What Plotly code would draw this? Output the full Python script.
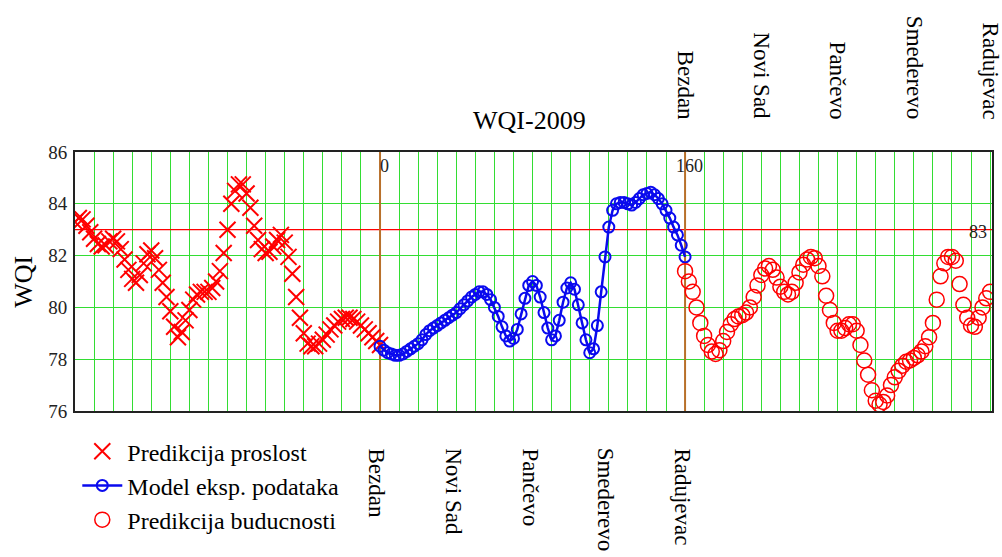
import plotly.graph_objects as go

# ---------------- data ----------------
X_PAST = list(range(-160, 1, 2))
WQI_PAST = [
    83.3, 83.45, 83.4, 83.15, 82.9, 82.65, 82.45, 82.35, 82.4, 82.55,
    82.65, 82.55, 82.25, 81.85, 81.45, 81.1, 80.95, 81.25, 81.7, 82.05,
    82.2, 81.9, 81.45, 80.95, 80.4, 79.85, 79.25, 78.85, 79.05, 79.5,
    79.9, 80.3, 80.5, 80.6, 80.6, 80.6, 80.75, 81.0, 81.4, 82.1,
    83.0, 84.0, 84.5, 84.75, 84.75, 84.4, 83.85, 83.15, 82.6, 82.25,
    82.1, 82.15, 82.35, 82.6, 82.8, 82.5, 81.95, 81.3, 80.4, 79.6,
    79.0, 78.6, 78.5, 78.5, 78.6, 78.75, 78.95, 79.15, 79.3, 79.45,
    79.55, 79.6, 79.6, 79.55, 79.45, 79.3, 79.15, 79.0, 78.85, 78.7,
    78.55,
]

X_MODEL = list(range(0, 161, 2))
WQI_MODEL = [
    78.5, 78.35, 78.25, 78.2, 78.15, 78.15, 78.2, 78.3, 78.4, 78.5,
    78.6, 78.75, 78.95, 79.1, 79.2, 79.3, 79.4, 79.5, 79.6, 79.7,
    79.8, 79.95, 80.1, 80.25, 80.4, 80.5, 80.6, 80.6, 80.5, 80.3,
    80.0, 79.65, 79.25, 78.9, 78.7, 78.8, 79.15, 79.75, 80.35, 80.85,
    81.0, 80.85, 80.4, 79.8, 79.2, 78.75, 78.9, 79.5, 80.2, 80.75,
    80.95, 80.7, 80.1, 79.4, 78.75, 78.25, 78.4, 79.3, 80.6, 81.95,
    83.1, 83.75, 84.0, 84.05, 84.05, 84.0, 83.95, 84.05, 84.2, 84.35,
    84.4, 84.45, 84.35, 84.2, 84.0, 83.75, 83.45, 83.1, 82.8, 82.4,
    81.95,
]

X_FUTURE = list(range(160, 321, 2))
WQI_FUTURE = [
    81.4, 81.0, 80.6, 80.0, 79.4, 78.9, 78.55, 78.3, 78.2, 78.35,
    78.7, 79.05, 79.35, 79.55, 79.65, 79.7, 79.8, 80.0, 80.4, 80.85,
    81.25, 81.5, 81.6, 81.45, 81.15, 80.8, 80.6, 80.5, 80.6, 80.95,
    81.35, 81.65, 81.85, 81.95, 81.9, 81.6, 81.2, 80.45, 79.9, 79.4,
    79.1, 79.1, 79.2, 79.35, 79.35, 79.1, 78.55, 77.95, 77.4, 76.8,
    76.4, 76.25, 76.35, 76.6, 77.0, 77.3, 77.55, 77.75, 77.9, 77.95,
    78.05, 78.15, 78.3, 78.5, 78.85, 79.4, 80.3, 81.2, 81.7, 81.95,
    81.95, 81.8, 80.9, 80.1, 79.6, 79.3, 79.25, 79.6, 80.0, 80.35,
    80.6,
]

SERIES_NAMES = ["Predikcija proslost", "Model eksp. podataka", "Predikcija buducnosti"]
STATIONS = ["Bezdan", "Novi Sad", "Pančevo", "Smederevo", "Radujevac"]
STATION_X_BOTTOM = [0, 40, 80, 120, 160]
STATION_X_TOP = [160, 200, 240, 280, 320]
MARKERS_X = [0, 160]
MARKER_LABELS = ["0", "160"]
REF_LEVEL = 83
TITLE = "WQI-2009"
Y_TITLE = "WQI"

# ---------------- figure ----------------
FONT = "Liberation Serif, Times New Roman, serif"
GRID = "#33dd33"
BLUE = "#0a0aee"

fig = go.Figure()
fig.add_trace(go.Scatter(
    x=X_PAST, y=WQI_PAST, mode="markers", name=SERIES_NAMES[0],
    marker=dict(symbol="x-thin", size=16, color="red",
                line=dict(width=2, color="red")),
))
fig.add_trace(go.Scatter(
    x=X_MODEL, y=WQI_MODEL, mode="lines+markers", name=SERIES_NAMES[1],
    line=dict(color=BLUE, width=2.5),
    marker=dict(symbol="circle-open", size=11, color=BLUE,
                line=dict(width=2, color=BLUE)),
))
fig.add_trace(go.Scatter(
    x=X_FUTURE, y=WQI_FUTURE, mode="markers", name=SERIES_NAMES[2],
    marker=dict(symbol="circle-open", size=15, color="red",
                line=dict(width=1.5, color="red")),
))

# reference line and markers
fig.add_shape(type="line", xref="x", yref="y", x0=-160, x1=321,
              y0=REF_LEVEL, y1=REF_LEVEL, line=dict(color="#ff0000", width=1.3),
              layer="between")
for xv in MARKERS_X:
    fig.add_shape(type="line", xref="x", yref="y", x0=xv, x1=xv,
                  y0=76, y1=86, line=dict(color="#b8702a", width=2),
                  layer="between")

ann = []
ann.append(dict(text=TITLE, xref="paper", yref="paper", x=0.496, y=1.12,
                xanchor="center", yanchor="middle", showarrow=False,
                font=dict(family=FONT, size=26, color="black")))
ann.append(dict(text=Y_TITLE, xref="paper", yref="paper", x=-0.057, y=0.498,
                xanchor="center", yanchor="middle", showarrow=False,
                textangle=-90, font=dict(family=FONT, size=26, color="black")))
for xv, lab in zip(MARKERS_X, MARKER_LABELS):
    ann.append(dict(text=lab, xref="x", yref="paper", x=xv, y=0.946,
                    xanchor="center", yanchor="middle", xshift=4,
                    showarrow=False,
                    font=dict(family=FONT, size=18, color="#222")))
ann.append(dict(text=str(REF_LEVEL), xref="x", yref="y", x=319.5, y=REF_LEVEL,
                xanchor="right", yanchor="middle", yshift=-2, showarrow=False,
                font=dict(family=FONT, size=18, color="#222")))
for xv, name in zip(STATION_X_BOTTOM, STATIONS):
    ann.append(dict(text=name, xref="x", yref="paper", x=xv, y=-0.135,
                    xanchor="center", yanchor="top", xshift=-3,
                    textangle=90, showarrow=False,
                    font=dict(family=FONT, size=23, color="black")))
for xv, name in zip(STATION_X_TOP, STATIONS):
    ann.append(dict(text=name, xref="x", yref="paper", x=xv, y=1.119,
                    xanchor="center", yanchor="bottom",
                    textangle=90, showarrow=False,
                    font=dict(family=FONT, size=23, color="black")))

fig.update_layout(
    width=1002, height=557, autosize=False,
    margin=dict(l=75, r=10, t=152, b=146, autoexpand=False),
    paper_bgcolor="white", plot_bgcolor="white",
    font=dict(family=FONT, color="black"),
    showlegend=True,
    legend=dict(x=0.0025, y=-0.07, xanchor="left", yanchor="top",
                font=dict(family=FONT, size=24, color="black"),
                bgcolor="rgba(0,0,0,0)", itemwidth=40, tracegroupgap=0),
    annotations=ann,
    xaxis=dict(range=[-160, 321], tick0=0, dtick=10, showgrid=True,
               gridcolor=GRID, gridwidth=1, showticklabels=False,
               zeroline=False, showline=True, mirror=True,
               linecolor="#222", linewidth=2, ticks=""),
    yaxis=dict(range=[76, 86], dtick=2, showgrid=True, gridcolor=GRID,
               gridwidth=1, zeroline=False, showline=True, mirror=True,
               linecolor="#222", linewidth=2, ticks="",
               ticklabelstandoff=2,
               tickfont=dict(family=FONT, size=19, color="#222")),
)

fig.write_html(
    "out.html",
    config={"displayModeBar": False},
    post_script="document.body.style.margin='0';document.body.style.overflow='hidden';",
)
